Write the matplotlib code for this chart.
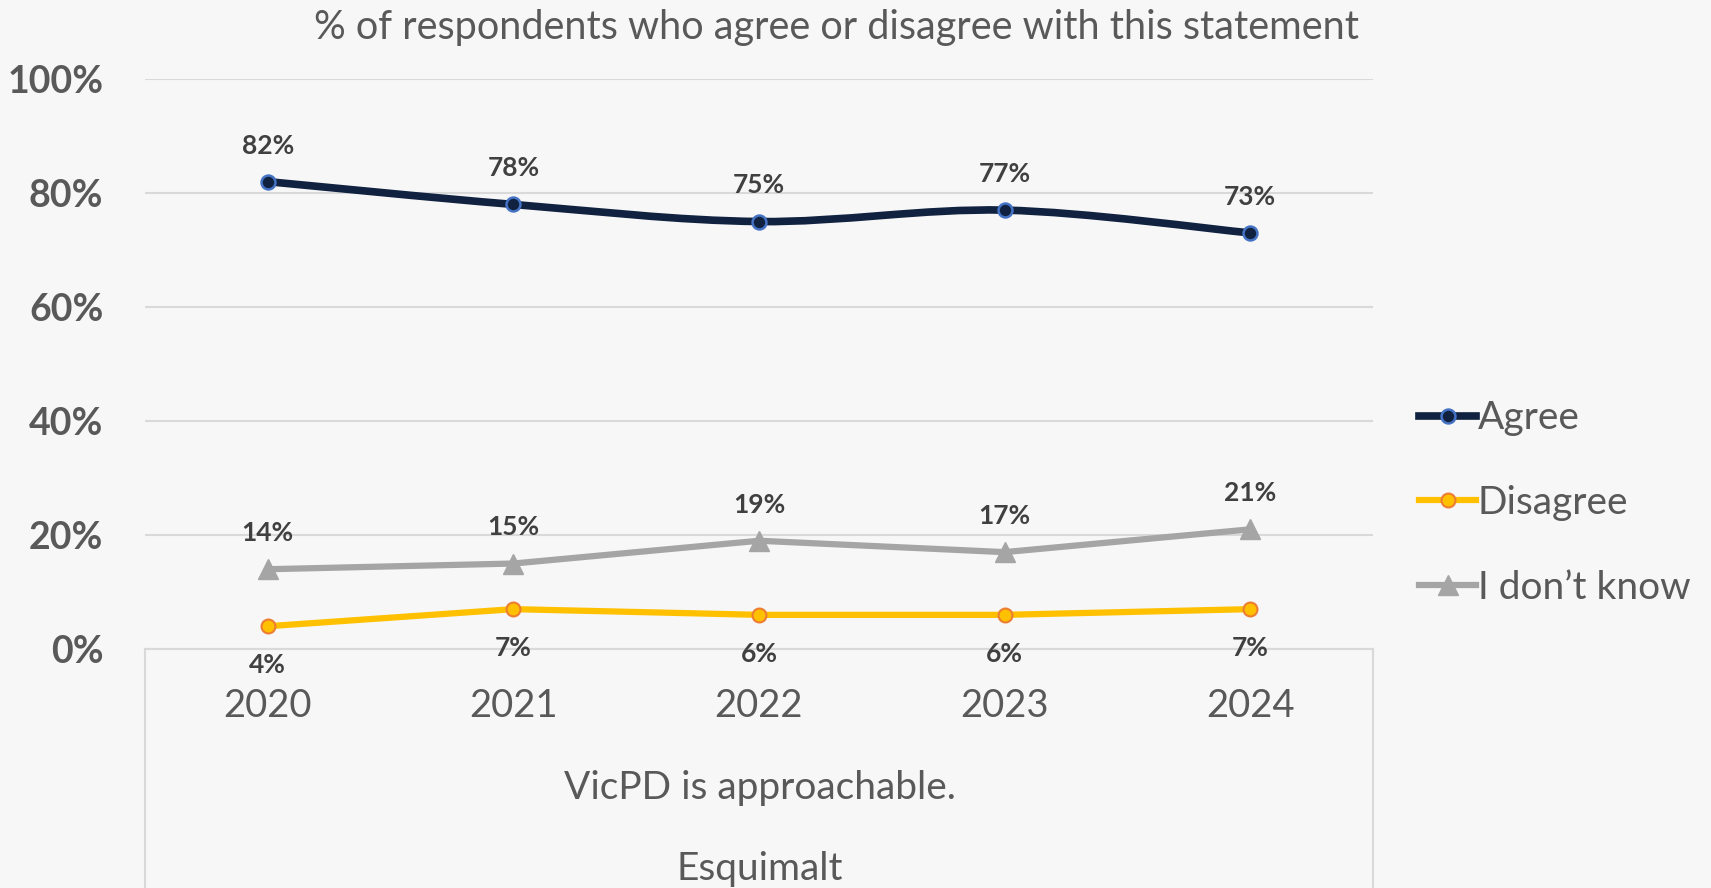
import numpy as np
import matplotlib
matplotlib.use("Agg")
import matplotlib.pyplot as plt
from matplotlib.path import Path
from matplotlib.patches import PathPatch
from matplotlib.lines import Line2D

plt.rcParams['font.family'] = ['Lato', 'DejaVu Sans']

# data
years = ['2020', '2021', '2022', '2023', '2024']
agree = [82, 78, 75, 77, 73]
disagree = [4, 7, 6, 6, 7]
dont_know = [14, 15, 19, 17, 21]
y_ticks = [0, 20, 40, 60, 80, 100]

title = '% of respondents who agree or disagree with this statement'
x_title = 'VicPD is approachable.'
sub_title = 'Esquimalt'

bg = '#F7F7F7'
grid_col = '#D9D9D9'
text_col = '#595959'
label_col = '#404040'

fig = plt.figure(figsize=(17.11, 8.88), dpi=100, facecolor=bg)
ax = fig.add_axes([0.0847, 0.2691, 0.7178, 0.6419], facecolor=bg)

x = np.arange(len(years))


def smooth_path(xs, ys):
    # excel style smoothed line: cubic bezier through every point
    pts = list(zip(xs, ys))
    verts = [pts[0]]
    codes = [Path.MOVETO]
    n = len(pts)
    for i in range(n - 1):
        p0 = pts[max(i - 1, 0)]
        p1 = pts[i]
        p2 = pts[i + 1]
        p3 = pts[min(i + 2, n - 1)]
        c1 = (p1[0] + (p2[0] - p0[0]) / 6, p1[1] + (p2[1] - p0[1]) / 6)
        c2 = (p2[0] - (p3[0] - p1[0]) / 6, p2[1] - (p3[1] - p1[1]) / 6)
        verts += [c1, c2, p2]
        codes += [Path.CURVE4] * 3
    return Path(verts, codes)


# Agree (smoothed)
ax.add_patch(PathPatch(smooth_path(x, agree), facecolor='none', edgecolor='#10223F',
                       lw=5.5, capstyle='round', joinstyle='round', zorder=3))
ax.plot(x, agree, ls='none', marker='o', ms=10, mfc='#10223F', mec='#4472C4', mew=1.8, zorder=4)

ax.plot(x, disagree, color='#FFC000', lw=4.5, marker='o', ms=10, mfc='#FFC000',
        mec='#ED7D31', mew=1.5, solid_capstyle='round', zorder=3)
ax.plot(x, dont_know, color='#A5A5A5', lw=4.5, marker='^', ms=15, mfc='#A5A5A5',
        mec='#A5A5A5', solid_capstyle='round', zorder=3)

for xi, v in zip(x, agree):
    ax.annotate(f'{v}%', (xi, v), xytext=(0, 26), textcoords='offset points',
                ha='center', va='center', fontsize=19, fontweight='bold', color=label_col)
for xi, v in zip(x, dont_know):
    ax.annotate(f'{v}%', (xi, v), xytext=(0, 26), textcoords='offset points',
                ha='center', va='center', fontsize=19, fontweight='bold', color=label_col)
for xi, v in zip(x, disagree):
    ax.annotate(f'{v}%', (xi, v), xytext=(0, -28), textcoords='offset points',
                ha='center', va='center', fontsize=19, fontweight='bold', color=label_col)

ax.set_xlim(-0.5, len(years) - 0.5)
ax.set_ylim(0, 100)
ax.set_yticks(y_ticks)
ax.set_yticklabels([f'{t}%' for t in y_ticks], fontsize=27, fontweight='bold', color=text_col)
ax.set_xticks(x)
ax.set_xticklabels(years, fontsize=27.5, color=text_col)
ax.tick_params(axis='y', length=0, pad=30)
ax.tick_params(axis='x', length=0, pad=28)
ax.grid(axis='y', color=grid_col, lw=1.5)
ax.set_axisbelow(True)
for s in ['top', 'left', 'right']:
    ax.spines[s].set_visible(False)
ax.spines['bottom'].set_color(grid_col)
ax.spines['bottom'].set_linewidth(1.5)

# box lines below the category axis
ax.plot([0, 0], [0, -0.42], transform=ax.transAxes, color=grid_col, lw=1.5, clip_on=False)
ax.plot([1, 1], [0, -0.42], transform=ax.transAxes, color=grid_col, lw=1.5, clip_on=False)

fig.text(836 / 1711, 1 - 28 / 888, title, ha='center', va='center', fontsize=28.5, color=text_col)
fig.text(760 / 1711, 1 - 788 / 888, x_title, ha='center', va='center', fontsize=28, color=text_col)
fig.text(760 / 1711, 1 - 869 / 888, sub_title, ha='center', va='center', fontsize=28, color=text_col)

handles = [
    Line2D([], [], color='#10223F', lw=5.5, marker='o', ms=10, mfc='#10223F', mec='#4472C4', mew=1.8),
    Line2D([], [], color='#FFC000', lw=4.5, marker='o', ms=10, mfc='#FFC000', mec='#ED7D31', mew=1.5),
    Line2D([], [], color='#A5A5A5', lw=4.5, marker='^', ms=15, mfc='#A5A5A5', mec='#A5A5A5'),
]
leg = fig.legend(handles, ['Agree', 'Disagree', 'I don\u2019t know'], loc='center left',
                 bbox_to_anchor=(1400 / 1711, 1 - 503 / 888), frameon=False, fontsize=28,
                 handlelength=1.45, handletextpad=0.05, labelspacing=1.25, borderpad=0)
for t in leg.get_texts():
    t.set_color(text_col)

fig.savefig('out.png', dpi=100, facecolor=bg)
